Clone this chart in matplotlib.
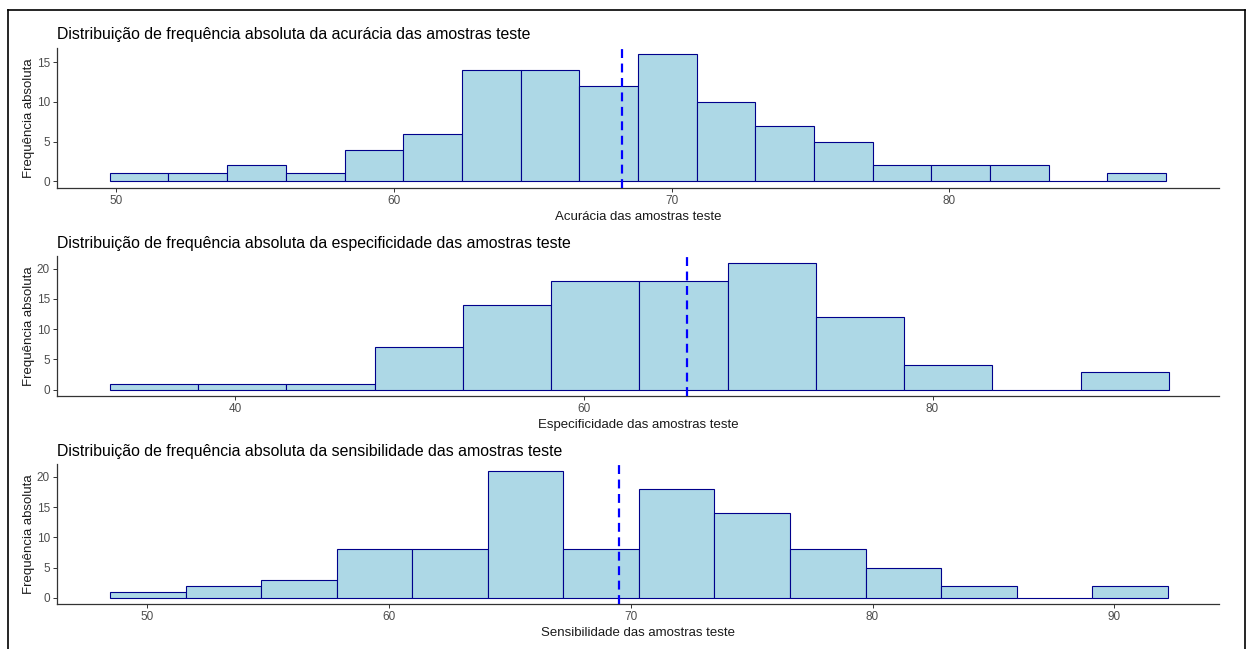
import matplotlib
matplotlib.use('Agg')
import matplotlib.pyplot as plt
import numpy as np
from matplotlib.lines import Line2D

plt.rcParams['font.family'] = ['Liberation Sans', 'DejaVu Sans']

# Acurácia
acc_counts = [1, 1, 2, 1, 4, 6, 14, 14, 12, 16, 10, 7, 5, 2, 2, 2, 0, 1]
acc_start, acc_width = 49.78, 2.112
acc_mean = 68.22

# Especificidade
esp_counts = [1, 1, 1, 7, 14, 18, 18, 21, 12, 4, 0, 3]
esp_start, esp_width = 32.83, 5.06
esp_mean = 65.93

# Sensibilidade
sen_counts = [1, 2, 3, 8, 8, 21, 8, 18, 14, 8, 5, 2, 0, 2]
sen_start, sen_width = 48.46, 3.125
sen_mean = 69.52

panels = [
    ('Distribuição de frequência absoluta da acurácia das amostras teste',
     'Acurácia das amostras teste', acc_counts, acc_start, acc_width, acc_mean,
     (47.88, 89.7), [50, 60, 70, 80], [0, 5, 10, 15]),
    ('Distribuição de frequência absoluta da especificidade das amostras teste',
     'Especificidade das amostras teste', esp_counts, esp_start, esp_width, esp_mean,
     (29.79, 96.43), [40, 60, 80], [0, 5, 10, 15, 20]),
    ('Distribuição de frequência absoluta da sensibilidade das amostras teste',
     'Sensibilidade das amostras teste', sen_counts, sen_start, sen_width, sen_mean,
     (46.27, 94.33), [50, 60, 70, 80, 90], [0, 5, 10, 15, 20]),
]

W, H = 1248, 649
fig = plt.figure(figsize=(W / 100, H / 100), dpi=100)

# posições dos painéis em pixels (topo, base)
rows = [(47.7, 187.7), (256.3, 396.0), (464.3, 604.3)]
left_px, right_px = 57, 1219

for (title, xlabel, counts, start, width, mean, xlim, xticks, yticks), (top, bot) in zip(panels, rows):
    ax = fig.add_axes([left_px / W, 1 - bot / H, (right_px - left_px) / W, (bot - top) / H])
    lefts = start + width * np.arange(len(counts))
    ax.bar(lefts, counts, width=width, align='edge', color='#ADD8E6',
           edgecolor='#00008B', linewidth=0.8, zorder=2)
    ax.axvline(mean, color='blue', linestyle=(0, (4, 2.5)), linewidth=1.6, zorder=3)
    ymax = max(counts)
    ax.set_ylim(-0.05 * ymax, 1.05 * ymax)
    ax.set_xlim(*xlim)
    ax.set_xticks(xticks)
    ax.set_yticks(yticks)
    for s in ['top', 'right']:
        ax.spines[s].set_visible(False)
    for s in ['left', 'bottom']:
        ax.spines[s].set_color('#333333')
        ax.spines[s].set_linewidth(0.9)
    ax.tick_params(colors='#333333', labelcolor='#4D4D4D', labelsize=8.5,
                   length=3, width=0.7, pad=2)
    ax.set_title(title, loc='left', fontsize=11.4, color='black', pad=6)
    ax.set_xlabel(xlabel, fontsize=9.5, color='#1a1a1a', labelpad=3)
    ax.set_ylabel('Frequência absoluta', fontsize=9.5, color='#1a1a1a', labelpad=1)

# moldura da imagem
fig.add_artist(Line2D([8 / W, 8 / W], [0, 1 - 10 / H], color='black', lw=1.2))
fig.add_artist(Line2D([8 / W, 1245 / W], [1 - 10 / H, 1 - 10 / H], color='black', lw=1.2))
fig.add_artist(Line2D([1245 / W, 1245 / W], [0, 1 - 10 / H], color='black', lw=1.2))

fig.savefig('out.png', dpi=100)
